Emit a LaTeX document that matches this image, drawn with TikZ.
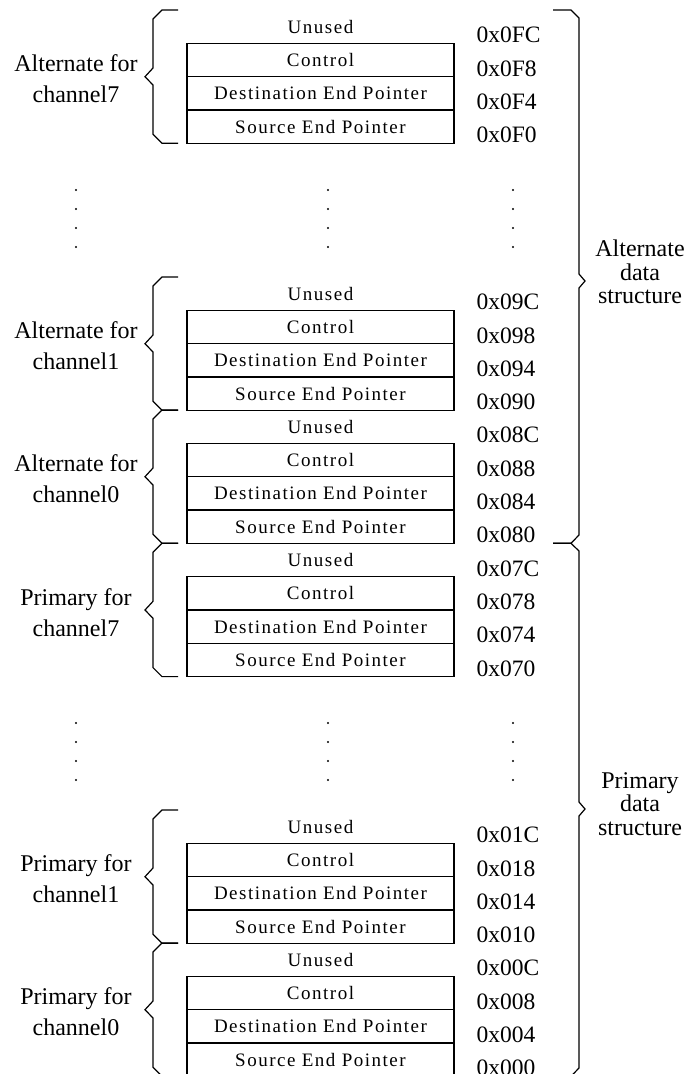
\documentclass[tikz,border=0pt]{standalone}
\usepackage{fontspec}
\setmainfont{Liberation Serif}
\newfontfamily\cellfont[LetterSpace=8]{Liberation Serif}

\begin{document}
\begin{tikzpicture}[x=1pt, y=-1pt, line width=1.2pt,
		cell/.style={rectangle, draw, minimum width=267pt, minimum height=33.3pt, inner sep=0pt, font=\cellfont\fontsize{19}{19}\selectfont},
		freecell/.style={cell, draw=none},
		hexlabel/.style={anchor=west, inner sep=0pt, font=\fontsize{23.5}{23.5}\selectfont},
		grouplabel/.style={align=center, font=\fontsize{24}{31}\selectfont},
		sidelabel/.style={align=center, font=\fontsize{24}{23.5}\selectfont}]
		\useasboundingbox (0,0) rectangle (687,1074);
		
		\foreach \t/\kind/\ch/\ha/\hb/\hc/\hd [count=\i] in {10/Alternate/7/0FC/0F8/0F4/0F0, 277/Alternate/1/09C/098/094/090, 410/Alternate/0/08C/088/084/080, 543.3/Primary/7/07C/078/074/070, 810/Primary/1/01C/018/014/010, 943/Primary/0/00C/008/004/000}{
			\node[freecell] (u\i) at (320.5,\t+16.7) {Unused};
			\node[cell] (c\i) at (320.5,\t+50) {Control};
			\node[cell] (d\i) at (320.5,\t+83.3) {Destination End Pointer};
			\node[cell] (s\i) at (320.5,\t+116.7) {Source End Pointer};
			\node[hexlabel] (ha\i) at (476,\t+25) {0x\ha};
			\node[hexlabel] (hb\i) at (476,\t+58.3) {0x\hb};
			\node[hexlabel] (hc\i) at (476,\t+91.7) {0x\hc};
			\node[hexlabel] (hd\i) at (476,\t+125) {0x\hd};
			\node[grouplabel] (g\i) at (76,\t+69) {\kind{} for\\channel\ch};
			\draw (178,\t) -- (162,\t) -- (153,\t+9) -- (153,\t+58) -- (145,\t+66.7) -- (153,\t+75) -- (153,\t+124.3) -- (162,\t+133.3) -- (178,\t+133.3);
		}
		
		% dots between the groups
		\foreach \x in {76,328,513}
			\foreach \y in {190,209,228,247,723,742,761,780}
				\fill (\x,\y) circle (1.2pt);
		
		\draw (553,10) -- (571,10) -- (579,18) -- (579,274) -- (585,281) -- (579,288) -- (579,535) -- (571,543.3) -- (553,543.3);
		\node[sidelabel] (alt) at (640,272) {Alternate\\data\\structure};
		
		\draw (553,543.3) -- (571,543.3) -- (579,551) -- (579,802) -- (585,809) -- (579,816) -- (579,1068) -- (571,1076.3) -- (553,1076.3);
		\node[sidelabel] (pri) at (640,804) {Primary\\data\\structure};
		
	\end{tikzpicture}
\end{document}
